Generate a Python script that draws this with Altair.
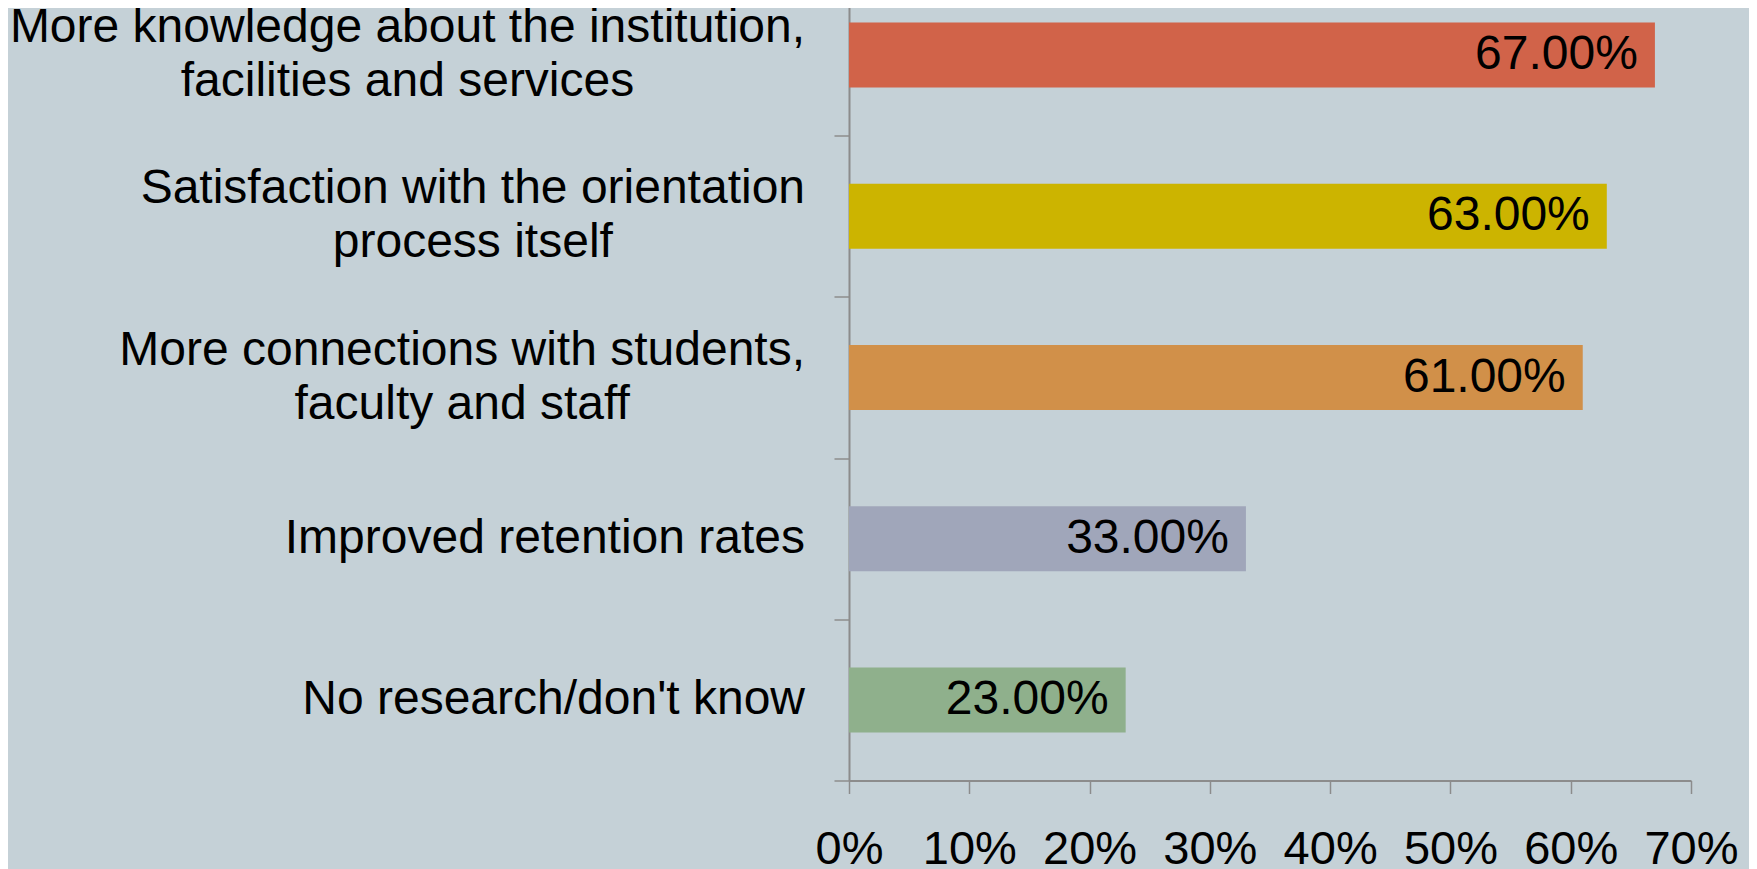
import altair as alt
import pandas as pd

# ---- data -------------------------------------------------------------
line1 = [
    "More knowledge about the institution,",
    "Satisfaction with the orientation",
    "More connections with students,",
    "Improved retention rates",
    "No research/don't know",
]
line2 = [
    "facilities and services",
    "process itself",
    "faculty and staff",
    "",
    "",
]
values = [0.67, 0.63, 0.61, 0.33, 0.23]
colors = ["#D16349", "#CCB400", "#D19049", "#A0A6BA", "#8FB08C"]
x_ticks = [0, 0.1, 0.2, 0.3, 0.4, 0.5, 0.6, 0.7]

FONT = "Liberation Sans"
AXIS_COLOR = "#8C8C8C"
LABEL_SIZE = 48
LINE_H = 54
TICK = 15
LABEL_PAD = 29

# Arial / Liberation Sans advance widths (per 1000 em), used to centre the
# two-line category labels the way the original does.
W = {" ": 278, ",": 278, "'": 191, "/": 278, ".": 278}
for c in "abdeghnopqu":
    W[c] = 556
for c in "cksvxyz":
    W[c] = 500
for c in "ijl":
    W[c] = 222
for c in "ft":
    W[c] = 278
W["r"] = 333
W["m"] = 833
W["w"] = 722
W["M"] = 833
W["S"] = 667
W["I"] = 278
W["N"] = 722


def text_width(s):
    return sum(W.get(ch, 556) for ch in s) / 1000 * LABEL_SIZE


cats = line1
label_text = [(a + "|" + b) if b else a for a, b in zip(line1, line2)]
n_lines = [2 if b else 1 for b in line2]
label_x = [-(TICK + LABEL_PAD + max(text_width(a), text_width(b)) / 2)
           for a, b in zip(line1, line2)]

df = pd.DataFrame({"cat": cats, "value": values, "ltext": label_text,
                   "lines": n_lines, "lx": label_x})

y_scale = alt.Scale(domain=cats, paddingInner=0, paddingOuter=0)

y_enc = alt.Y(
    "cat:N",
    sort=cats,
    scale=y_scale,
    axis=alt.Axis(
        title=None,
        tickBand="extent",
        labels=False,
        tickSize=TICK,
        tickColor=AXIS_COLOR,
        tickWidth=1.5,
        domainColor=AXIS_COLOR,
        domainWidth=2,
        grid=False,
    ),
)

x_enc = alt.X(
    "value:Q",
    scale=alt.Scale(domain=[0, 0.7], nice=False),
    axis=alt.Axis(
        title=None,
        values=x_ticks,
        format=".0%",
        labelFont=FONT,
        labelFontSize=47,
        labelColor="#000000",
        labelPadding=33,
        labelFlush=False,
        labelOverlap=False,
        tickSize=13,
        tickColor=AXIS_COLOR,
        tickWidth=1.5,
        domainColor=AXIS_COLOR,
        domainWidth=2,
        grid=False,
    ),
)

base = alt.Chart(df)

bars = base.mark_bar(height=65).encode(
    x=x_enc,
    y=y_enc,
    color=alt.Color(
        "cat:N",
        scale=alt.Scale(domain=cats, range=colors),
        legend=None,
    ),
)

values_text = base.mark_text(
    align="right",
    baseline="middle",
    dx=-17,
    font=FONT,
    fontSize=48,
    color="#000000",
).encode(
    x="value:Q",
    y=alt.Y("cat:N", sort=cats),
    text=alt.Text("value:Q", format=".2%"),
)


def cat_label_layer(lines):
    return base.transform_filter(alt.datum.lines == lines).mark_text(
        align="center",
        baseline="middle",
        lineBreak="|",
        lineHeight=LINE_H,
        dy=-(lines - 1) * LINE_H / 2,
        font=FONT,
        fontSize=LABEL_SIZE,
        color="#000000",
    ).encode(
        x=alt.X("lx:Q", scale=None),
        y=alt.Y("cat:N", sort=cats),
        text="ltext:N",
    )


chart = (
    alt.layer(bars, values_text, cat_label_layer(1), cat_label_layer(2))
    .properties(
        width=842,
        height=806,
        background="#C5D1D7",
        autosize=alt.AutoSizeParams(type="none"),
        padding={"left": 841, "top": -33.5, "right": 58, "bottom": 97},
    )
    .configure_view(stroke=None)
)

chart.save("out.html", embed_options={"renderer": "svg", "actions": False})
